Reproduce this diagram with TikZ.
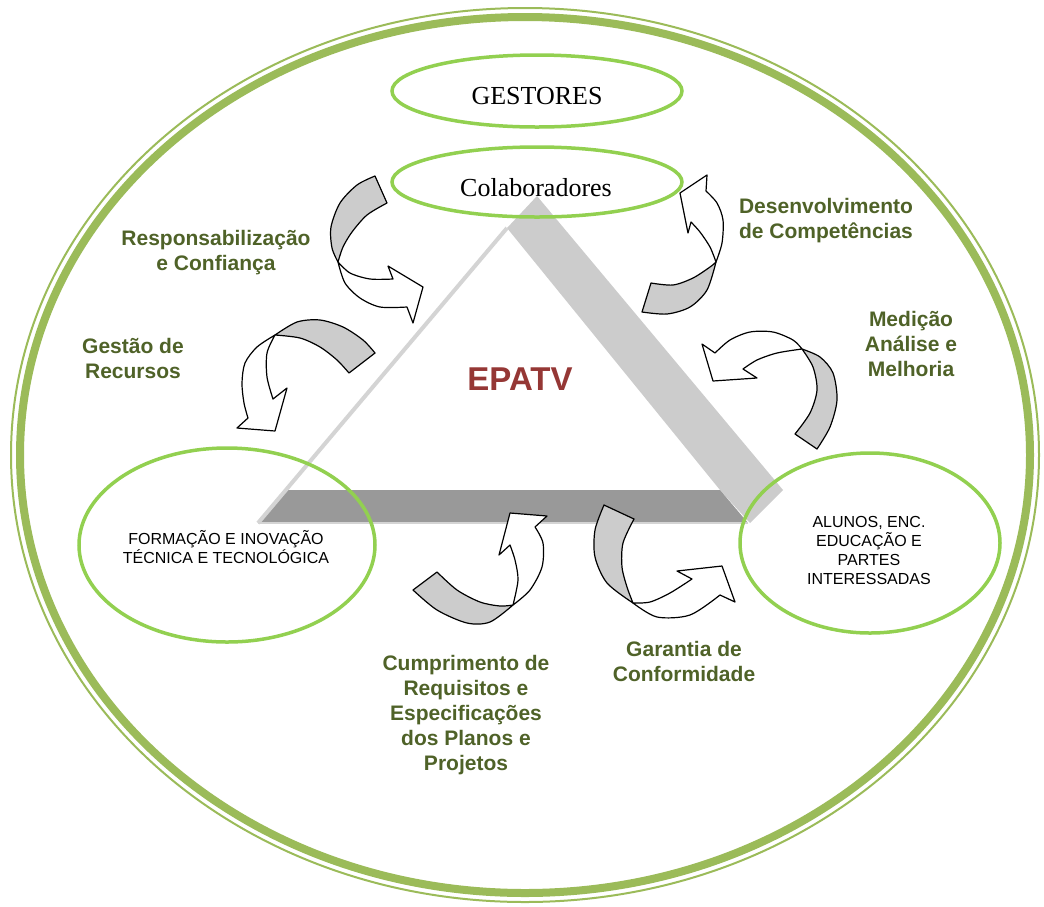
\documentclass[tikz,border=0pt]{standalone}
\usepackage{fontspec}
\setmainfont{Liberation Serif}
\setsansfont{Liberation Sans}
\usetikzlibrary{shapes.geometric}
\definecolor{framegreen}{HTML}{9BBB59}
\definecolor{ovalgreen}{HTML}{92D050}
\definecolor{olivetext}{HTML}{4F6228}
\definecolor{epatvred}{HTML}{953735}
\definecolor{bandlight}{HTML}{CCCCCC}
\definecolor{banddark}{HTML}{999999}
\definecolor{edgegray}{HTML}{D4D4D4}
\tikzset{
  oval/.style={ellipse, draw=ovalgreen, line width=3.5pt, inner sep=0pt},
  lbl/.style={font=\sffamily\bfseries\fontsize{21}{25}\selectfont, text=olivetext, align=center},
  boxtxt/.style={font=\sffamily\fontsize{16}{19}\selectfont, align=center},
  back/.style={draw=black, line width=1.2pt, fill=bandlight, line join=round},
  front/.style={draw=black, line width=1.2pt, fill=white, line join=round}
}

\begin{document}
\begin{tikzpicture}[x=1pt,y=-1pt]
\useasboundingbox (0,0) rectangle (1044,906);
% frame
\draw[framegreen, line width=8pt] (525,455) ellipse [x radius=505pt, y radius=438pt];
\draw[framegreen, line width=2pt] (525,455) ellipse [x radius=514pt, y radius=447pt];
% triangle
\fill[bandlight] (537,196) -- (783,490) -- (750,523) -- (720,490) -- (507,228) -- cycle;
\fill[banddark] (286,490) -- (720,490) -- (748,523) -- (258,523) -- cycle;
\draw[edgegray, line width=4pt] (507,228) -- (258,523);
\draw[edgegray, line width=2pt] (258,523) -- (748,523);
% ovals
\node[oval, minimum width=290pt, minimum height=72pt] (gestores) at (537,91) {};
\node[oval, minimum width=290pt, minimum height=70pt] (colab) at (537,182) {};
\node[oval, minimum width=296pt, minimum height=194pt] (formacao) at (227,545) {};
\node[oval, minimum width=260pt, minimum height=180pt] (alunos) at (870,543) {};
% arrows
\filldraw[back] plot[smooth] coordinates {(375,176) (357,185) (340,203) (331,227) (332,248) (338,262)}
  -- plot[smooth] coordinates {(338,262) (343,247) (352,232) (367,215) (387,203)} -- cycle;
\filldraw[front] plot[smooth] coordinates {(338,262) (350,273) (370,279) (393,279)} -- (388,266) -- (423,287) -- (413,323)
  -- plot[smooth] coordinates {(407,307) (380,307) (360,298) (345,283) (338,262)} -- cycle;

\filldraw[back] plot[smooth] coordinates {(375,353) (363,340) (343,327) (320,320) (297,322) (275,335)}
  -- plot[smooth] coordinates {(275,335) (300,338) (320,347) (337,360) (349,373)} -- cycle;
\filldraw[front] plot[smooth] coordinates {(275,335) (257,347) (245,363) (242,383) (244,403) (248,418)} -- (237,428) -- (275,431) -- (287,388)
  -- plot[smooth] coordinates {(273,399) (267,377) (267,353) (275,335)} -- cycle;

\filldraw[back] plot[smooth] coordinates {(642,312) (667,314) (690,307) (707,290) (716,262)}
  -- plot[smooth] coordinates {(716,262) (710,267) (693,278) (673,285) (651,283)} -- cycle;
\filldraw[front] plot[smooth] coordinates {(716,262) (722,243) (723,220) (717,203) (706,191)} -- (707,175) -- (680,193) -- (688,233)
  -- plot[smooth] coordinates {(691,222) (700,232) (710,247) (716,262)} -- cycle;

\filldraw[back] plot[smooth] coordinates {(795,434) (810,413) (817,390) (813,367) (802,349)}
  -- plot[smooth] coordinates {(802,349) (820,357) (833,373) (837,400) (830,427) (817,449)} -- cycle;
\filldraw[front] plot[smooth] coordinates {(802,349) (793,340) (773,332) (750,332) (730,340) (715,353)} -- (702,344) -- (713,381) -- (757,378)
  -- plot[smooth] coordinates {(743,369) (757,360) (777,353) (802,349)} -- cycle;

\filldraw[back] plot[smooth] coordinates {(413,590) (437,610) (467,623) (490,622) (513,605)}
  -- plot[smooth] coordinates {(513,605) (500,606) (480,602) (457,590) (437,572)} -- cycle;
\filldraw[front] plot[smooth] coordinates {(513,605) (530,590) (542,567) (543,543) (535,527)} -- (547,516) -- (510,513) -- (499,555)
  -- plot[smooth] coordinates {(510,545) (515,560) (518,580) (513,605)} -- cycle;

\filldraw[back] plot[smooth] coordinates {(604,505) (595,530) (595,557) (607,583) (633,603)}
  -- plot[smooth] coordinates {(633,603) (627,587) (622,567) (623,543) (634,519)} -- cycle;
\filldraw[front] plot[smooth] coordinates {(633,603) (657,617) (690,615) (720,595)} -- (735,602) -- (722,566) -- (677,571)
  -- plot[smooth] coordinates {(692,579) (670,593) (650,602) (633,603)} -- cycle;
% texts
\node[font=\fontsize{26}{30}\selectfont] (gestorestxt) at (537,96) {GESTORES};
\node[font=\fontsize{26}{30}\selectfont] (colabtxt) at (536,188) {Colaboradores};
\node[boxtxt] (formacaotxt) at (226,547) {FORMAÇÃO E INOVAÇÃO\\TÉCNICA E TECNOLÓGICA};
\node[boxtxt] (alunostxt) at (869,550) {ALUNOS, ENC.\\EDUCAÇÃO E\\PARTES\\INTERESSADAS};
\node[font=\sffamily\bfseries\fontsize{33}{38}\selectfont, text=epatvred] (epatv) at (520,379) {EPATV};
\node[lbl] (resp) at (216,253) {Responsabilização\\e Confiança};
\node[lbl] (gestao) at (133,358) {Gestão de\\Recursos};
\node[lbl] (desenv) at (826,221) {Desenvolvimento\\de Competências};
\node[lbl] (medicao) at (911,344) {Medição\\Análise e\\Melhoria};
\node[lbl] (garantia) at (684,661) {Garantia de\\Conformidade};
\node[lbl] (cumpr) at (466,715) {Cumprimento de\\Requisitos e\\Especificações\\dos Planos e\\Projetos};
\end{tikzpicture}
\end{document}
